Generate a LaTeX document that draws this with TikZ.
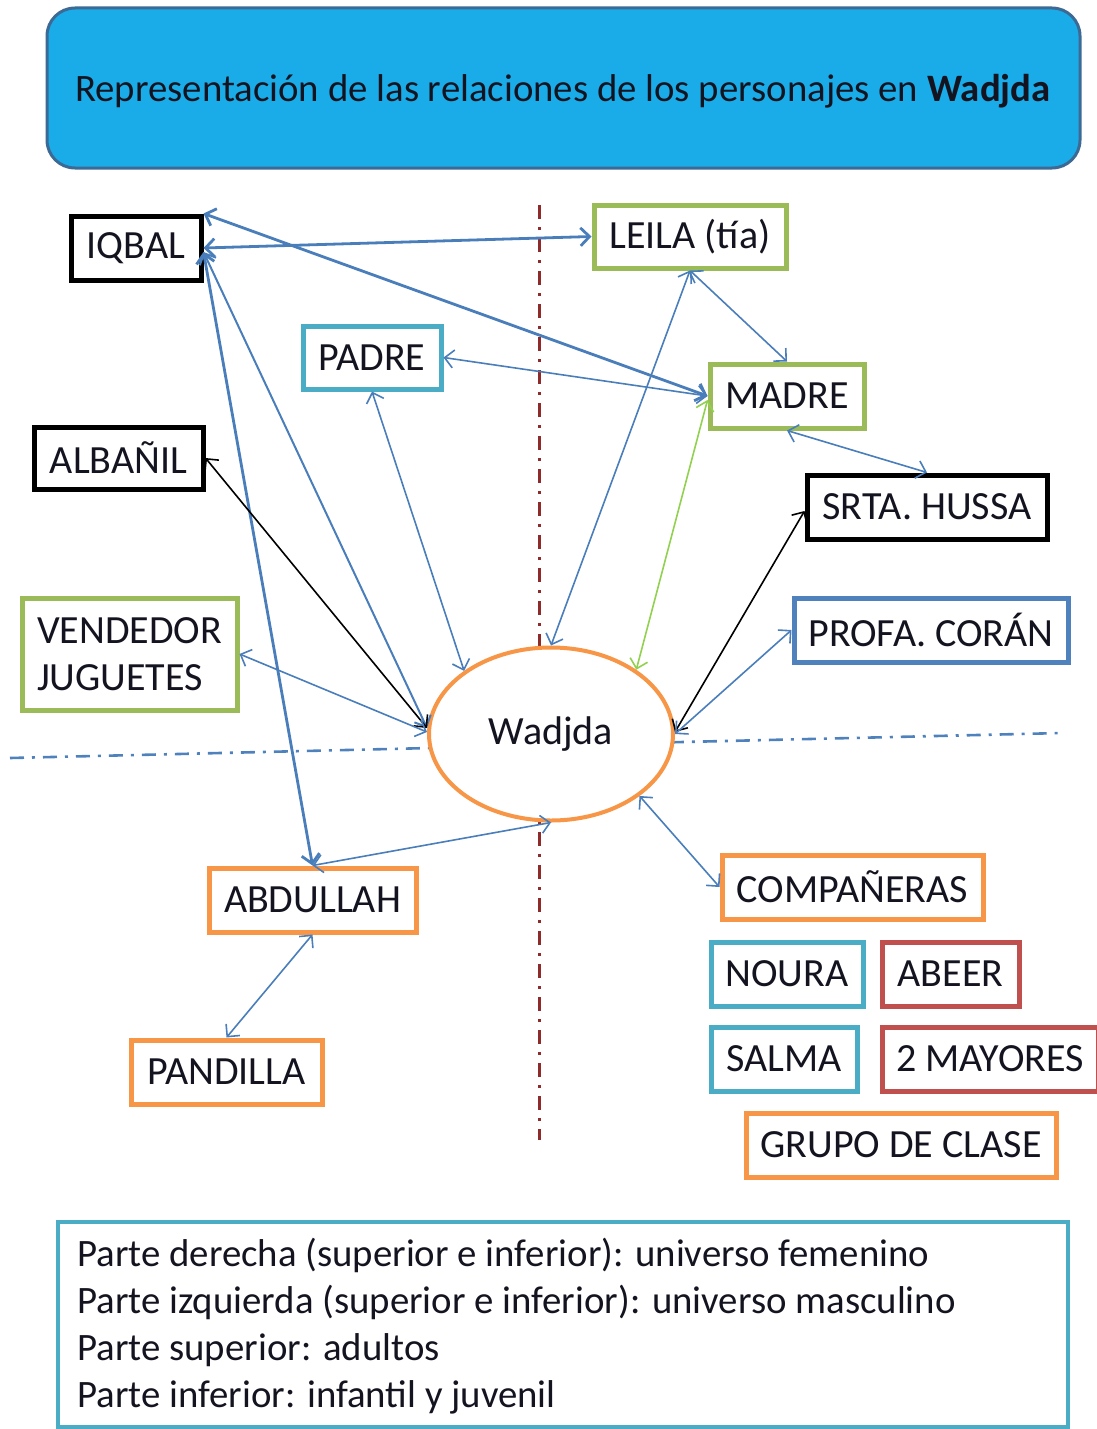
\documentclass[tikz,border=0pt]{standalone}
\usepackage{fontspec}
\setmainfont{Carlito}
\usetikzlibrary{arrows.meta,calc,shapes.geometric}
\definecolor{lineblue}{HTML}{4A7EBB}
\definecolor{bgreen}{HTML}{9BBB59}
\definecolor{bteal}{HTML}{4BACC6}
\definecolor{bblue}{HTML}{4F81BD}
\definecolor{bred}{HTML}{C0504D}
\definecolor{borange}{HTML}{F79646}
\definecolor{lgreen}{HTML}{92D050}
\definecolor{titlefill}{HTML}{1AACE8}
\definecolor{titledraw}{HTML}{3D6A94}
\definecolor{darkred}{HTML}{8E2A2A}
\definecolor{txt}{HTML}{141420}
\begin{document}
\begin{tikzpicture}[x=0.5pt,y=-0.5pt,
  >={Straight Barb[length=4.5pt,width=9pt]},
  box/.style={draw=#1, line width=2.5pt, fill=white, inner sep=0pt, text=txt,
    font=\fontsize{20}{24}\selectfont},
  rel/.style={lineblue, line width=0.8pt, <->},
  relthick/.style={lineblue, line width=1.4pt, <->},
  relblack/.style={black, line width=0.8pt, <->},
  relgreen/.style={lgreen, line width=0.8pt, <->},
  divider/.style={line width=1.5pt, dash pattern=on 7pt off 4pt on 1.5pt off 4pt}
]
\useasboundingbox (0,0) rectangle (1097,1429);

% title
\node[draw=titledraw, line width=1.5pt, fill=titlefill, rounded corners=14pt,
  minimum width=516.5pt, minimum height=80pt] (title) at (563.5,88) {};
\node[text=txt, font=\fontsize{19.4}{23}\selectfont, inner sep=0pt] (titletext) at (563,91)
  {Representación de las relaciones de los personajes en \textbf{Wadjda}};

% dividers
\coordinate (vtop) at (539,205);
\coordinate (vbot) at (539,1140);
\coordinate (hleft) at (10,758);
\coordinate (hright) at (1062,733);
\draw[divider, darkred] (vtop) -- (vbot);
\draw[divider, bblue, line width=1.3pt] (hleft) -- (hright);

% nodes
\node[box=black, minimum width=65pt, minimum height=32pt] (iqbal) at (136,248) {IQBAL};
\node[box=bgreen, minimum width=96pt, minimum height=31.5pt] (leila) at (690,236.5) {LEILA (tía)};
\node[box=bteal, minimum width=69pt, minimum height=31.5pt] (padre) at (372,357.5) {PADRE};
\node[box=bgreen, minimum width=77pt, minimum height=32pt] (madre) at (787,396) {MADRE};
\node[box=black, minimum width=84.5pt, minimum height=31pt] (albanil) at (118.5,458) {ALBAÑIL};
\node[box=black, minimum width=120pt, minimum height=32pt] (srta) at (927,507) {SRTA. HUSSA};
\node[box=bgreen, minimum width=107.5pt, minimum height=56pt, align=left] (vend) at (129.5,654) {VENDEDOR\\[-0.5pt]JUGUETES};
\node[box=bblue, minimum width=137pt, minimum height=32pt] (profa) at (931,630) {PROFA. CORÁN};
\node[box=borange, ellipse, line width=2pt, minimum width=122pt, minimum height=86.5pt] (wad) at (551,734) {Wadjda};
\node[box=borange, minimum width=103.5pt, minimum height=32pt] (abd) at (312.5,900) {ABDULLAH};
\node[box=borange, minimum width=95.5pt, minimum height=32pt] (pand) at (226.5,1072) {PANDILLA};
\node[box=borange, minimum width=130.5pt, minimum height=32pt] (comp) at (852.5,887) {COMPAÑERAS};
\node[box=bteal, minimum width=76pt, minimum height=32pt] (noura) at (787,974) {NOURA};
\node[box=bred, minimum width=68.5pt, minimum height=32pt] (abeer) at (950.5,974) {ABEER};
\node[box=bteal, minimum width=73pt, minimum height=32pt] (salma) at (784,1059) {SALMA};
\node[box=bred, minimum width=108pt, minimum height=32pt] (mayores) at (990,1059) {2 MAYORES};
\node[box=borange, minimum width=155pt, minimum height=32pt] (grupo) at (901,1145) {GRUPO DE CLASE};

% legend
\node[draw=bteal, line width=2pt, minimum width=505pt, minimum height=102.5pt,
  inner sep=0pt] (legend) at (563,1324.5) {};
\node[anchor=west, text=txt, align=left, font=\fontsize{19.4}{23.5}\selectfont, inner sep=0pt]
  (legtext) at (77,1326)
  {Parte derecha (superior e inferior): universo femenino\\
   Parte izquierda (superior e inferior): universo masculino\\
   Parte superior: adultos\\
   Parte inferior: infantil y juvenil};

% connectors
\draw[relthick] (iqbal.east) -- (leila.west);
\draw[relthick] (iqbal.north east) -- (madre.west);
\draw[rel, line width=1pt] ([yshift=-2pt]iqbal.east) -- ([yshift=3pt]wad.west);
\draw[relthick] ([yshift=-2pt]iqbal.east) -- (abd.north);
\draw[rel] (padre.east) -- (madre.west);
\draw[rel] (padre.south) -- (wad.144);
\draw[rel] (leila.south) -- (madre.north);
\draw[rel] (leila.south) -- (wad.north);
\draw[relgreen] ([yshift=-2pt]madre.west) -- (wad.37);
\draw[rel] (madre.south) -- (srta.north);
\draw[relblack] (albanil.east) -- ([yshift=3pt]wad.west);
\draw[rel] (vend.east) -- ([yshift=1pt]wad.west);
\draw[relblack] ([yshift=-2pt]srta.west) -- ([yshift=1pt]wad.east);
\draw[rel] (profa.west) -- ([yshift=0pt]wad.east);
\draw[rel] (abd.north) -- (wad.south);
\draw[rel] (wad.-35) -- (comp.west);
\draw[rel] (abd.south) -- (pand.north);
\end{tikzpicture}
\end{document}
